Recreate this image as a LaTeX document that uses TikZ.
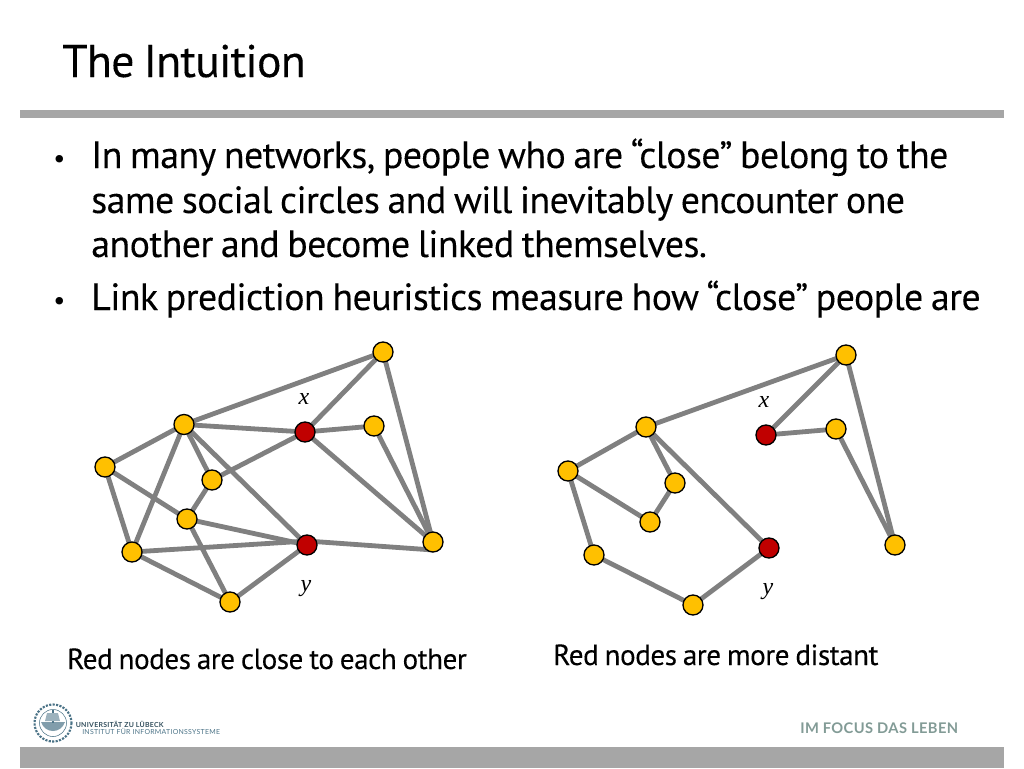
\documentclass[tikz,border=0pt]{standalone}
\usepackage{fontspec}
\setmainfont[LetterSpace=-1.6,WordSpace=0.8,FakeBold=0.15]{PT Sans}
\newfontfamily\bulletfont{PT Sans}
\newfontfamily\logofont[LetterSpace=4]{Lato}
\newfontfamily\focusfont[LetterSpace=2.8]{Lato}
\newfontfamily\mathfont{Liberation Serif}
\definecolor{edgegray}{RGB}{128,128,128}
\definecolor{bargray}{RGB}{166,166,166}
\definecolor{nodeyellow}{RGB}{255,192,0}
\definecolor{nodered}{RGB}{192,0,0}
\definecolor{tealgray}{RGB}{130,155,150}
\definecolor{logoblue}{RGB}{75,115,135}
\tikzset{
 x=0.75pt,y=-0.75pt,
 yel/.style={circle,draw=black,fill=nodeyellow,line width=1pt,minimum size=15pt,inner sep=0pt},
 rednode/.style={circle,draw=black,fill=nodered,line width=1pt,minimum size=15pt,inner sep=0pt},
 edge/.style={draw=edgegray,line width=3.6pt},
 bodytext/.style={anchor=base west,inner sep=0pt,font=\fontsize{28.45}{30}\selectfont,text=black},
 bulletmark/.style={anchor=base west,inner sep=0pt,font=\bulletfont\fontsize{20}{22}\selectfont,text=black},
 caption/.style={anchor=base west,inner sep=0pt,font=\fontsize{21.85}{25}\selectfont},
 lab/.style={inner sep=0pt,font=\mathfont\itshape\fontsize{18}{20}\selectfont},
}
\begin{document}
\begin{tikzpicture}
\useasboundingbox (0,0) rectangle (1024,768);
\fill[white] (0,0) rectangle (1024,768);
\fill[bargray] (20,110) rectangle (1004,118);
\fill[bargray] (20,747) rectangle (1004,768);
\node[anchor=base west,inner sep=0pt,font=\fontsize{34.3}{36}\selectfont] (title) at (62,77) {The Intuition};
\node[bulletmark] (b1) at (53,167) {•};
\node[bodytext] (l1) at (91,168) {In many networks, people who are “close” belong to the};
\node[bodytext] (l2) at (91,213) {same social circles and will inevitably encounter one};
\node[bodytext] (l3) at (91,257) {another and become linked themselves.};
\node[bulletmark] (b2) at (53,309) {•};
\node[bodytext] (l4) at (91,310) {Link prediction heuristics measure how “close” people are};
% left graph
\coordinate (La) at (383,352);\coordinate (Lb) at (184,424.5);\coordinate (Lc) at (305,432);
\coordinate (Ld) at (374,426);\coordinate (Le) at (105,467);\coordinate (Lf) at (212,480);
\coordinate (Lg) at (187,519);\coordinate (Lh) at (132,552);\coordinate (Li) at (307,545);
\coordinate (Lj) at (433,542);\coordinate (Lk) at (230,602);
\coordinate (Lilow) at (307,541);\coordinate (Ljlow) at (433,550);
\foreach \p/\q in {a/b,a/c,a/j,b/c,b/e,b/f,b/h,b/i,c/d,c/f,c/j,d/j,e/g,e/h,f/g,g/i,g/k,h/ilow,h/k,ilow/jlow,i/k}
  \draw[edge] (L\p) -- (L\q);
\foreach \p in {a,b,d,e,f,g,h,j,k} \node[yel] (nL\p) at (L\p) {};
\foreach \p in {c,i} \node[rednode] (nL\p) at (L\p) {};
\node[lab] (Lx) at (304,399) {x};
\node[lab] (Ly) at (306,589) {y};
% right graph
\coordinate (Ra) at (846,355);\coordinate (Rb) at (646,427);\coordinate (Rc) at (766,435);
\coordinate (Rd) at (836,429);\coordinate (Re) at (568,471);\coordinate (Rf) at (675,483);
\coordinate (Rg) at (650,522);\coordinate (Rh) at (594,555);\coordinate (Ri) at (769,548);
\coordinate (Rj) at (895,545);\coordinate (Rk) at (693,605);
\foreach \p/\q in {a/b,a/c,a/j,b/e,b/f,b/i,c/d,d/j,e/g,e/h,f/g,h/k,i/k}
  \draw[edge] (R\p) -- (R\q);
\foreach \p in {a,b,d,e,f,g,h,j,k} \node[yel] (nR\p) at (R\p) {};
\foreach \p in {c,i} \node[rednode] (nR\p) at (R\p) {};
\node[lab] (Rx) at (764,402) {x};
\node[lab] (Ry) at (768,592) {y};
\node[caption] (capL) at (67,669) {Red nodes are close to each other};
\node[caption] (capR) at (553,665) {Red nodes are more distant};
% logo
\begin{scope}[shift={(53,723)}]
 \draw[logoblue,line width=1.6pt,densely dotted] (0,0) circle (18.5);
 \draw[logoblue,line width=0.4pt] (0,0) circle (13.5);
 \fill[logoblue!70] (-12,-1) .. controls (-8,11) and (8,11) .. (12,-1) -- cycle;
 \draw[logoblue,line width=1pt] (0,-13) -- (0,0);
 \fill[logoblue!55] (-6,-10) -- (5,-10) -- (7,-2) -- (-8,-2) -- cycle;
\end{scope}
\node[anchor=base west,inner sep=0pt,font=\logofont\bfseries\fontsize{5.2}{6}\selectfont,text=logoblue!70!black] (uni) at (75.5,727.5) {UNIVERSITÄT ZU LÜBECK};
\node[anchor=base west,inner sep=0pt,font=\logofont\fontsize{5.2}{6}\selectfont,text=logoblue] (inst) at (82,734.5) {INSTITUT FÜR INFORMATIONSSYSTEME};
\node[anchor=base west,inner sep=0pt,font=\focusfont\bfseries\fontsize{11}{12}\selectfont,text=tealgray] (focus) at (800,733) {IM FOCUS DAS LEBEN};
\end{tikzpicture}
\end{document}
